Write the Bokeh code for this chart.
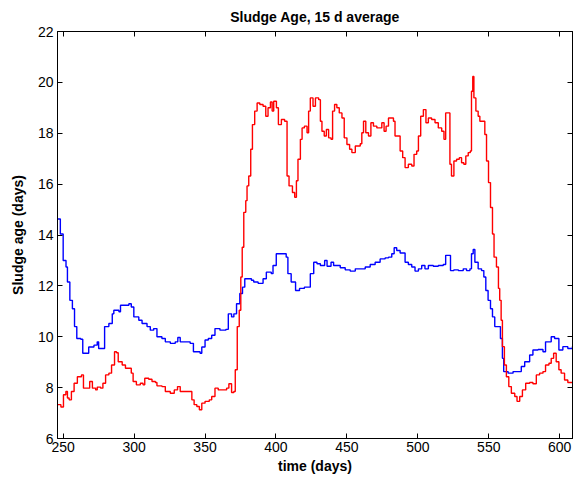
from bokeh.plotting import figure
from bokeh.models import Range1d, LinearAxis, FixedTicker, CustomJSTickFormatter
from bokeh.embed import file_html
from bokeh.resources import INLINE

# time (days) and sludge age (days) for each series
blue_x = [246, 248, 250, 252, 253, 254.7, 256.5, 258, 259.6, 262.4, 263.8, 267.5, 268, 271.7, 274, 275,
          277.6, 279.2, 282.2, 284.6, 285.7, 289.3, 290.4, 294, 296.3, 298, 299.8, 303.3, 305.6, 309.1,
          311.4, 313.8, 316.1, 319.6, 322, 325.5, 329, 330.8, 332.5, 336, 339.5, 341.8, 344.2, 346.5,
          347.7, 350, 352.3, 354.7, 357, 360.5, 364.7, 366.4, 368.7, 370.3, 372.2, 374.5, 376.4, 378,
          380.4, 382.7, 384.3, 387.4, 390.9, 393.2, 396.7, 397.9, 400.2, 402.6, 407.2, 408.4, 410.7,
          413.8, 416.6, 420, 422.4, 424.2, 426.6, 428.9, 431.3, 434.3, 436, 438.8, 440.6, 445.3, 448.8,
          452.3, 455.9, 459.4, 462.9, 466.4, 469.9, 473.4, 476.9, 479.3, 481.6, 483.3, 485.1, 487.5,
          489.8, 491, 493.3, 495.7, 498, 500.4, 502.7, 505, 507.4, 510.9, 514.4, 517.9, 519.6, 522, 523,
          525.4, 528.5, 532, 534.3, 536.7, 537.8, 539, 540.2, 542.5, 544.9, 546.5, 547.9, 549.5, 551.2,
          552.6, 554.2, 556.6, 558.2, 559.6, 560.5, 563.6, 567.1, 570.6, 572.9, 575.3, 578.8, 581.1,
          584.7, 588.2, 590, 594, 596.4, 598, 599.4, 602.2, 605.7, 609]
blue_y = [14.63, 14.04, 13.0, 12.74, 12.15, 11.43, 11.1, 10.4, 9.93, 9.9, 9.35, 9.35, 9.6, 9.67, 9.8, 9.54,
          9.54, 10.4, 10.52, 10.9, 11.04, 10.98, 11.24, 11.24, 11.3, 11.17, 10.78, 10.65, 10.52, 10.4,
          10.26, 10.32, 10.0, 9.93, 9.8, 9.74, 9.8, 9.97, 9.8, 9.8, 9.74, 9.41, 9.41, 9.35,
          9.6, 9.87, 9.93, 10.06, 10.32, 10.26, 10.29, 10.9, 10.78, 10.9, 11.3, 11.7, 11.95, 12.28,
          12.28, 12.22, 12.15, 12.1, 12.28, 12.54, 12.48, 12.8, 13.26, 13.26, 13.13, 12.48, 12.15,
          11.82, 11.9, 11.95, 11.95, 12.48, 12.93, 12.87, 12.8, 13.0, 12.77, 12.93, 12.8, 12.71, 12.63,
          12.58, 12.67, 12.67, 12.74, 12.84, 12.93, 13.06, 13.1, 13.13, 13.26, 13.5, 13.39, 13.29,
          13.29, 12.93, 12.84, 12.74, 12.58, 12.67, 12.8, 12.67, 12.8, 12.77, 12.8, 12.84, 13.2, 13.2, 12.6,
          12.63, 12.6, 12.67, 12.6, 12.67, 13.26, 13.43, 12.93, 12.67, 12.6, 12.35, 11.82, 11.43, 11.1,
          10.78, 10.4, 10.4, 9.93, 9.15, 8.63, 8.57, 8.63, 8.63, 8.83, 9.02, 9.28, 9.48,
          9.5, 9.41, 9.8, 10.0, 9.93, 9.93, 9.48, 9.61, 9.54, 9.63]

red_x = [246, 248.4, 250.2, 251.9, 253, 254.2, 255.8, 257.7, 260, 262.9, 264.3, 267.1, 268.7, 270.6,
         272.9, 274, 276.4, 278, 279.9, 282.2, 284.1, 286.2, 287.6, 288.8, 291.6, 293.9, 296.3, 298,
         299.3, 301.6, 304.4, 306.3, 307.5, 310.3, 312.6, 315, 316.1, 319.6, 322, 325.5, 328.3, 330.6,
         332.5, 336, 339.5, 340.7, 342.3, 344.2, 346, 347.7, 350, 353, 354.7, 357, 359.3, 362.9, 365.2,
         366.8, 368.7, 370.3, 371.3, 372.7, 374.1, 375.2, 376.2, 377.3, 378.7, 379.6, 380.8, 382.2,
         383.4, 385, 386.7, 388.6, 390.9, 392.8, 394.4, 396.1, 397.3, 398.4, 400.3, 401.7, 403.8, 406.1,
         407.8, 409.2, 411.6, 413.2, 414.4, 415.5, 417.2, 418.4, 420, 421.9, 423, 424.2, 426.1, 427.8,
         430.1, 431.3, 432.4, 434, 435.5, 437.1, 438.8, 439.9, 441.3, 442.9, 444.6, 446.5, 448.1, 450,
         451.9, 453.5, 455.9, 459.4, 460.5, 461.7, 463.3, 465.2, 466.9, 468.7, 471.1, 473, 474.6, 476.2,
         477.6, 479.3, 480.9, 482.8, 483.9, 486.3, 487.5, 489.3, 491, 493.3, 495.7, 497.3, 499.2, 500.4,
         502, 503.9, 505.7, 507.4, 509.7, 512.1, 514.4, 516.8, 518.4, 519.6, 521.5, 522.6, 523.7, 525.4,
         527.3, 529.2, 530.8, 532.4, 533.8, 535.5, 537, 537.8, 538.7, 539.5, 540.9, 542.5, 543.7, 545.6,
         547.2, 548.4, 549.8, 551.2, 552.6, 553.7, 555.4, 556.8, 557.7, 558.7, 559.6, 561, 562.4, 564.1,
         565.9, 568.3, 569.9, 571.8, 573.7, 576, 578.8, 581.1, 583.5, 585.8, 588.2, 590, 592.4, 594,
         595.7, 597.5, 599.4, 601, 603.4, 605.7, 609]
red_y = [7.33, 7.24, 7.72, 7.85, 7.59, 7.52, 7.85, 8.17, 8.43, 8.5, 7.98, 7.98, 8.24, 7.98,
         7.91, 8.02, 7.98, 8.17, 8.5, 8.57, 8.89, 9.41, 9.37, 9.02, 8.89, 8.76, 8.76, 8.57,
         8.24, 8.11, 8.17, 8.11, 8.37, 8.33, 8.24, 8.2, 8.07, 8.04, 7.85, 7.78, 7.91, 8.04,
         7.85, 7.85, 7.85, 7.52, 7.33, 7.26, 7.13, 7.39, 7.46, 7.52, 7.65, 7.98, 7.91, 7.91, 7.98,
         8.15, 7.81, 7.85, 8.7, 10.4, 11.04, 12.35, 13.52, 14.89, 15.35, 15.93, 16.32, 17.37,
         18.34, 18.87, 19.19, 19.13, 19.06, 18.67, 19.0, 19.23, 18.87, 19.26, 19.0, 18.34, 18.54, 18.47,
         16.32, 15.93, 15.67, 15.48, 16.13, 16.98, 17.76, 18.21, 18.28, 18.02, 18.87, 19.39, 19.06, 19.39,
         19.32, 18.47, 18.08, 17.89, 18.15, 17.82, 17.76, 18.87, 19.13, 19.0, 18.8, 18.6, 17.82, 17.56,
         17.37, 17.24, 17.5, 17.59, 18.02, 18.47, 18.02, 17.89, 18.41, 18.28, 18.21, 18.21, 18.41, 18.08,
         18.28, 18.6, 18.6, 18.47, 17.89, 17.89, 17.3, 17.04, 16.65, 16.78, 16.71, 17.17, 17.3, 17.89,
         18.67, 18.93, 18.41, 18.6, 18.54, 18.41, 18.21, 18.08, 17.76, 18.8, 18.8, 16.78, 16.32, 16.91,
         16.98, 17.04, 16.84, 16.78, 17.11, 17.24, 17.3, 19.65, 20.23, 19.39, 18.87, 18.67, 18.47, 18.47,
         17.95, 16.91, 16.06, 15.08, 14.04, 13.13, 12.74, 11.9, 11.43, 10.65, 9.61, 8.89, 8.43, 8.04,
         7.78, 7.65, 7.46, 7.65, 7.91, 8.17, 8.2, 8.15, 8.5, 8.57, 8.63, 8.89, 8.96, 9.15,
         9.35, 9.02, 8.7, 8.57, 8.3, 8.2, 8.17]

x_ticks = [250, 300, 350, 400, 450, 500, 550, 600]
y_ticks = [6, 8, 10, 12, 14, 16, 18, 20, 22]

FONT = "Liberation Sans"

p = figure(width=578, height=482, output_backend="svg", toolbar_location=None,
           x_range=Range1d(246, 609), y_range=Range1d(6, 22),
           title="Sludge Age, 15 d average",
           min_border_left=57, min_border_right=6, min_border_top=31, min_border_bottom=44)
p.title.align = "center"
p.title.text_font = FONT
p.title.text_font_size = "14px"
p.title.text_font_style = "bold"
p.title.text_color = "black"
p.title.offset = 0
p.title.standoff = 13
p.grid.visible = False
p.outline_line_color = "black"
p.outline_line_width = 1
p.background_fill_color = "white"
p.border_fill_color = "white"

p.step(blue_x, blue_y, mode="after", line_color="#0000ff", line_width=1.4)
p.step(red_x, red_y, mode="after", line_color="#ff0000", line_width=1.4)

def style(ax, ticks):
    ax.ticker = FixedTicker(ticks=ticks)
    ax.major_tick_in = 5
    ax.major_tick_out = 0
    ax.minor_tick_line_color = None
    ax.axis_line_color = "black"
    ax.major_tick_line_color = "black"
    ax.major_label_text_font = FONT
    ax.major_label_text_font_size = "14px"
    ax.major_label_text_color = "black"
    ax.axis_label_text_font = FONT
    ax.axis_label_text_font_size = "14px"
    ax.axis_label_text_font_style = "bold"
    ax.axis_label_text_color = "black"

style(p.xaxis[0], x_ticks)
style(p.yaxis[0], y_ticks)
p.xaxis[0].axis_label = "time (days)"
p.yaxis[0].axis_label = "Sludge age (days)"
p.xaxis[0].major_label_standoff = 3
p.xaxis[0].axis_label_standoff = 3
p.yaxis[0].major_label_standoff = 4
p.yaxis[0].axis_label_standoff = 9

blank = CustomJSTickFormatter(code="return '';")
top = LinearAxis(formatter=blank)
right = LinearAxis(formatter=blank)
style(top, x_ticks)
style(right, y_ticks)
top.major_label_standoff = 0
right.major_label_standoff = 0
p.add_layout(top, "above")
p.add_layout(right, "right")

open("out.html", "w").write(file_html(p, INLINE))
